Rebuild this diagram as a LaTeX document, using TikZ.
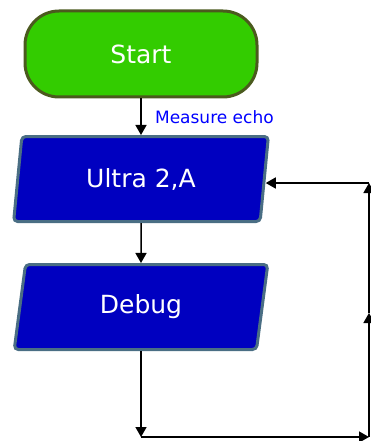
\documentclass[tikz,border=0pt]{standalone}
\usepackage{fontspec}
\setmainfont{DejaVu Sans}
\usetikzlibrary{arrows.meta,shapes.geometric,positioning}
\definecolor{startgreen}{HTML}{33CC00}
\definecolor{startrim}{HTML}{4B5A1E}
\definecolor{boxblue}{HTML}{0000C0}
\definecolor{boxrim}{HTML}{4A6E84}
\definecolor{noteblue}{HTML}{0000FF}
\tikzset{
    terminal/.style={draw=startrim, line width=3pt, fill=startgreen, rounded corners=34pt,
        minimum width=232pt, minimum height=86pt, text=white, font=\fontsize{25}{30}\selectfont},
    iobox/.style={shape=trapezium, trapezium left angle=82, trapezium right angle=98,
        trapezium stretches=true, draw=boxrim, line width=3pt, fill=boxblue, rounded corners=4pt,
        minimum width=255pt, minimum height=85pt, text=white, font=\fontsize{25}{30}\selectfont},
    flow/.style={draw=black, line width=1.5pt, -{Triangle[width=11pt,length=10pt]}},
    note/.style={text=noteblue, font=\fontsize{17}{20}\selectfont}
}
\begin{document}
\begin{tikzpicture}[x=1pt,y=-1pt]
\useasboundingbox (0,0) rectangle (371,441);
\node[terminal] (start) at (141,54) {Start};
\node[iobox] (ultra) at (141,179) {Ultra 2,A};
\node[iobox] (debug) at (141,307) {Debug};
\coordinate (rb) at (369,437);
\coordinate (lb) at (debug.south |- rb);
\coordinate (rm) at (369,313);
\coordinate (rt) at (369,183);
\draw[flow] (start) -- node[note, right=10pt]{Measure echo} (ultra);
\draw[flow] (ultra) -- (debug);
\draw[flow] (debug.south) -- (lb);
\draw[flow] (lb) -- (rb);
\draw[flow] (rb) -- (rm);
\draw[flow] (rm) -- (rt);
\draw[flow] (rt) -- (rt -| ultra.east);
\end{tikzpicture}
\end{document}
